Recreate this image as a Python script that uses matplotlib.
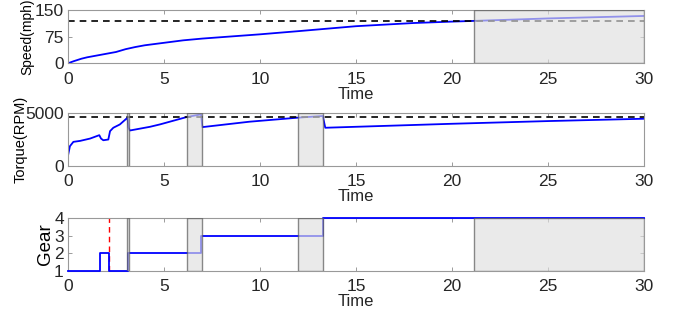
import matplotlib.pyplot as plt

plt.rcParams["font.family"] = ["Liberation Sans", "DejaVu Sans"]

# speed trace
speed_t = [0, 0.3, 0.7, 1.0, 1.5, 2.0, 2.5, 3.0, 3.5, 4, 5, 6, 7, 8, 10, 12, 15, 18, 20, 21.15, 25, 30]
speed_v = [0, 6, 13, 17, 22, 27, 32, 40, 46, 51, 58, 65, 70, 74, 82, 91, 105, 114, 118, 120, 127, 134]
speed_target = 121

# engine trace
torque_t = [0, 0.1, 0.28, 0.63, 1.15, 1.63, 1.72, 1.84, 2.1, 2.19, 2.36, 2.7, 3.1, 3.15, 3.22,
            4.27, 4.8, 6.18, 6.93, 7.0, 9.45, 11.96, 13.27, 13.4, 20, 25, 30]
torque_v = [950, 1840, 2250, 2340, 2560, 2880, 2560, 2400, 2470, 3260, 3580, 3890, 4530, 3600, 3320,
            3670, 3900, 4590, 4840, 3640, 4150, 4530, 4690, 3580, 3955, 4210, 4430]
torque_limit = 4550

# gear trace
gear_t = [0, 1.67, 2.15, 3.15, 6.95, 13.3, 30]
gear_v = [1, 2, 1, 2, 3, 4, 4]
red_mark = 2.15

shift_start = [3.07, 6.18, 11.96]
shift_end = [3.18, 6.96, 13.3]
cruise = (21.15, 30)

fig = plt.figure(figsize=(6.81, 3.22), dpi=100)

left = 68 / 681
width = (644 - 68) / 681
h = 53 / 322
ax1 = fig.add_axes([left, 1 - 63.3 / 322, width, h])
ax2 = fig.add_axes([left, 1 - 165.7 / 322, width, h])
ax3 = fig.add_axes([left, 1 - 271 / 322, width, h])

shade_face = (0.88, 0.88, 0.88, 0.65)
shade_edge = (0.35, 0.35, 0.35, 0.7)

ax1.plot(speed_t, speed_v, color="blue", lw=1.3)
ax1.axhline(speed_target, color="black", ls=(0, (4, 3)), lw=1.2)
ax1.axvspan(cruise[0], cruise[1], facecolor=shade_face, edgecolor=shade_edge, lw=1, zorder=3)
ax1.set_ylim(0, 150)
ax1.set_yticks([0, 75, 150])
ax1.set_ylabel("Speed(mph)", fontsize=10, labelpad=0.5)

ax2.plot(torque_t, torque_v, color="blue", lw=1.3)
ax2.axhline(torque_limit, color="black", ls=(0, (4, 3)), lw=1.2)
for s, e in zip(shift_start, shift_end):
    ax2.axvspan(s, e, facecolor=shade_face, edgecolor=shade_edge, lw=1, zorder=3)
ax2.set_ylim(0, 5000)
ax2.set_yticks([0, 5000])
ax2.set_ylabel("Torque(RPM)", fontsize=10.5, labelpad=-1.5)

ax3.plot(gear_t, gear_v, color="blue", lw=1.3, drawstyle="steps-post", clip_on=False, zorder=2.6)
ax3.axvline(red_mark, color="red", ls=(0, (4, 3)), lw=1)
for s, e in zip(shift_start, shift_end):
    ax3.axvspan(s, e, facecolor=shade_face, edgecolor=shade_edge, lw=1, zorder=3)
ax3.axvspan(cruise[0], cruise[1], facecolor=shade_face, edgecolor=shade_edge, lw=1, zorder=3)
ax3.set_ylim(1, 4)
ax3.set_yticks([1, 2, 3, 4])
ax3.set_ylabel("Gear", fontsize=13.5, labelpad=0)

for ax in (ax1, ax2, ax3):
    ax.set_xlim(0, 30)
    ax.set_xticks([0, 5, 10, 15, 20, 25, 30])
    ax.set_xlabel("Time", fontsize=12, labelpad=0, color="#262626")
    ax.tick_params(direction="in", top=True, right=True, length=3, width=0.6,
                   color="#8c8c8c", labelsize=12.5, labelcolor="#262626")
    ax.tick_params(axis="x", pad=6)
    ax.tick_params(axis="y", pad=3)
    for sp in ax.spines.values():
        sp.set_color("#999999")
        sp.set_linewidth(0.8)

fig.savefig("out.png", dpi=100)
